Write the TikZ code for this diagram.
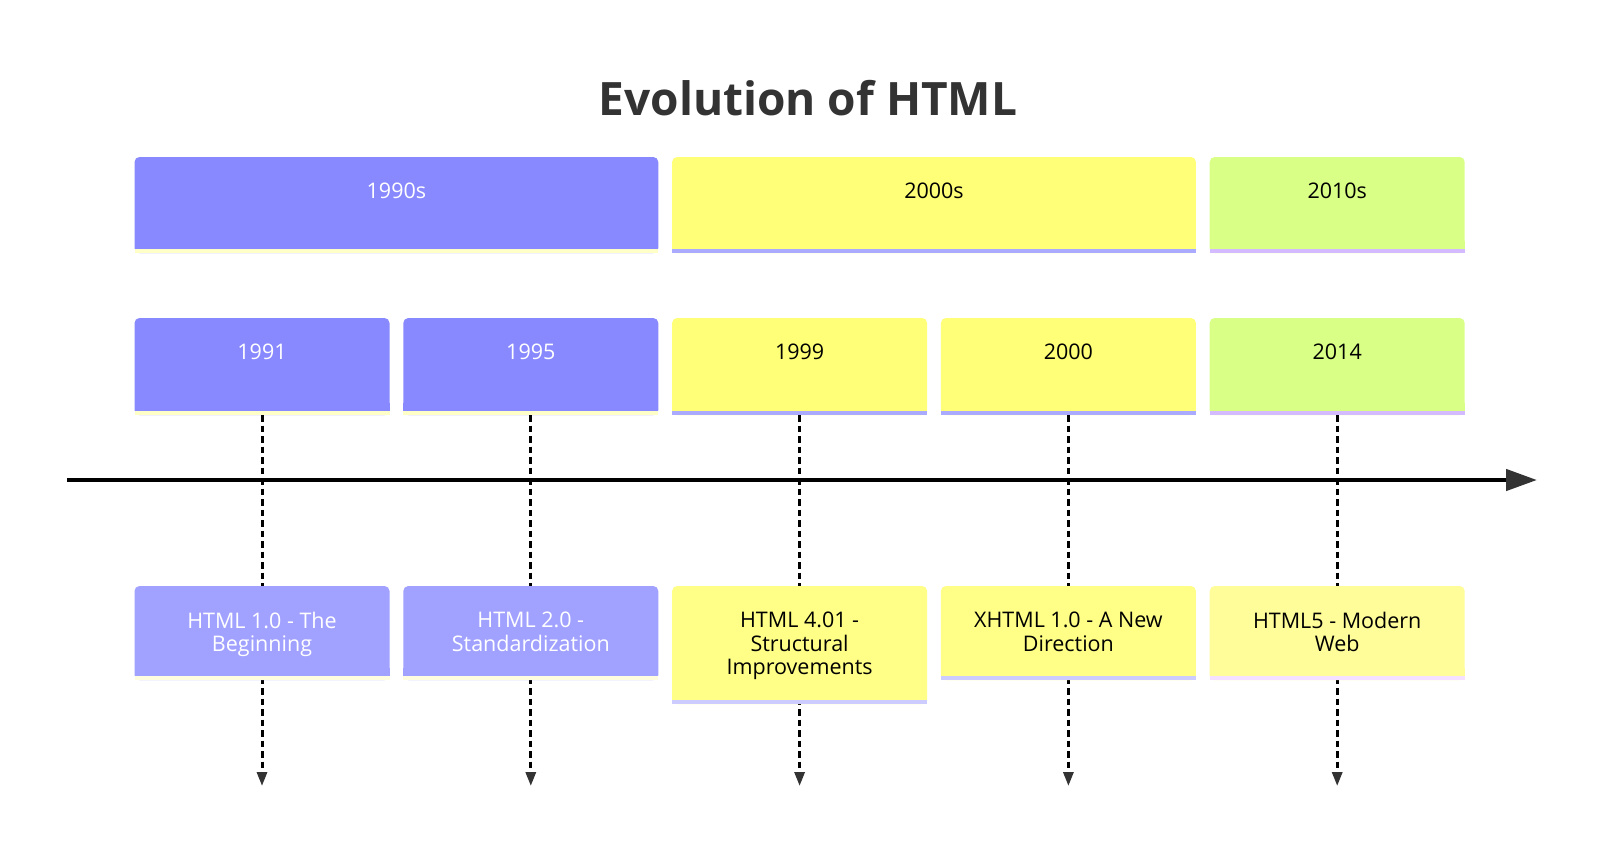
\documentclass[tikz,border=0pt]{standalone}
\usepackage{fontspec}
\setmainfont{Open Sans}
\usetikzlibrary{arrows.meta}
\definecolor{purA}{HTML}{8888FF}
\definecolor{purB}{HTML}{A1A1FF}
\definecolor{yelA}{HTML}{FFFF78}
\definecolor{yelB}{HTML}{FFFF88}
\definecolor{yelC}{HTML}{FFFD99}
\definecolor{grnA}{HTML}{D9FF86}
\definecolor{stYelA}{HTML}{FFFFC8}
\definecolor{stYelB}{HTML}{FFFDE0}
\definecolor{stLavA}{HTML}{AAAAFF}
\definecolor{stLavB}{HTML}{CCCCFF}
\definecolor{stPurA}{HTML}{D4BBFF}
\definecolor{stPink}{HTML}{F5E0FF}
\definecolor{darkgr}{HTML}{333333}
\newcommand\tlbox[9]{%
  % #1 name, #2 left, #3 top, #4 width, #5 height, #6 fill, #7 stripe, #8 text colour, #9 text
  \node[boxframe, minimum width=#4, minimum height=#5, anchor=north west] (#1) at (#2,#3) {};
  \fill[#6, rounded corners=5] (#1.south west) rectangle (#1.north east);
  \fill[#6] ([yshift=12pt]#1.south west) rectangle (#1.south east);
  \fill[#7] ([yshift=4pt]#1.south west) rectangle (#1.south east);
  \node[lbl, text=#8] (#1t) at ([yshift=-26pt]#1.north) {#9};
}
\begin{document}
\begin{tikzpicture}[x=1pt,y=-1pt,
  boxframe/.style={draw=none, inner sep=0pt, outer sep=0pt},
  lbl/.style={inner sep=0pt, anchor=north, align=center, font=\fontsize{21.5}{23.3}\selectfont},
  titlestyle/.style={inner sep=0pt, anchor=base, text=darkgr, font=\fontsize{46}{52}\selectfont\bfseries},
  dashline/.style={line width=3pt, dash pattern=on 6.5pt off 4pt, draw=black, -{Triangle[length=14pt,width=10pt,color=darkgr]}},
  axisline/.style={line width=4.5pt, draw=black, -{Triangle[length=31pt,width=21pt,color=darkgr]}}
]
\fill[white] (0,0) rectangle (1600,852);
\useasboundingbox (0,0) rectangle (1600,852);

\node[titlestyle] (title) at (808,115) {Evolution of HTML};

% decades
\tlbox{d1990}{134.5}{157}{523.8}{96}{purA}{stYelA}{white}{1990s}
\tlbox{d2000}{672.1}{157}{523.8}{96}{yelA}{stLavA}{black}{2000s}
\tlbox{d2010}{1209.7}{157}{255}{96}{grnA}{stPurA}{black}{2010s}

% years
\tlbox{y1991}{134.5}{318}{255}{97}{purA}{stYelA}{white}{1991}
\tlbox{y1995}{403.3}{318}{255}{97}{purA}{stYelA}{white}{1995}
\tlbox{y1999}{672.1}{318}{255}{97}{yelA}{stLavA}{black}{1999}
\tlbox{y2000}{940.9}{318}{255}{97}{yelA}{stLavA}{black}{2000}
\tlbox{y2014}{1209.7}{318}{255}{97}{grnA}{stPurA}{black}{2014}

% end points
\coordinate (f1991) at (262,786);
\coordinate (f1995) at (530.8,786);
\coordinate (f1999) at (799.6,786);
\coordinate (f2000) at (1068.4,786);
\coordinate (f2014) at (1337.2,786);
\coordinate (axs) at (67,480);
\coordinate (axe) at (1537,480);

% dashed connectors
\draw[dashline] (y1991.south) -- (f1991);
\draw[dashline] (y1995.south) -- (f1995);
\draw[dashline] (y1999.south) -- (f1999);
\draw[dashline] (y2000.south) -- (f2000);
\draw[dashline] (y2014.south) -- (f2014);

% axis
\draw[axisline] (axs) -- (axe);

% events
\tlbox{e1991}{134.5}{586}{255}{94}{purB}{stYelB}{white}{HTML 1.0 - The\\Beginning}
\tlbox{e1995}{403.3}{586}{255}{94}{purB}{stYelB}{white}{HTML 2.0 -\\Standardization}
\tlbox{e1999}{672.1}{586}{255}{118}{yelB}{stLavB}{black}{HTML 4.01 -\\Structural\\Improvements}
\tlbox{e2000}{940.9}{586}{255}{94}{yelB}{stLavB}{black}{XHTML 1.0 - A New\\Direction}
\tlbox{e2014}{1209.7}{586}{255}{94}{yelC}{stPink}{black}{HTML5 - Modern\\Web}
\end{tikzpicture}
\end{document}
